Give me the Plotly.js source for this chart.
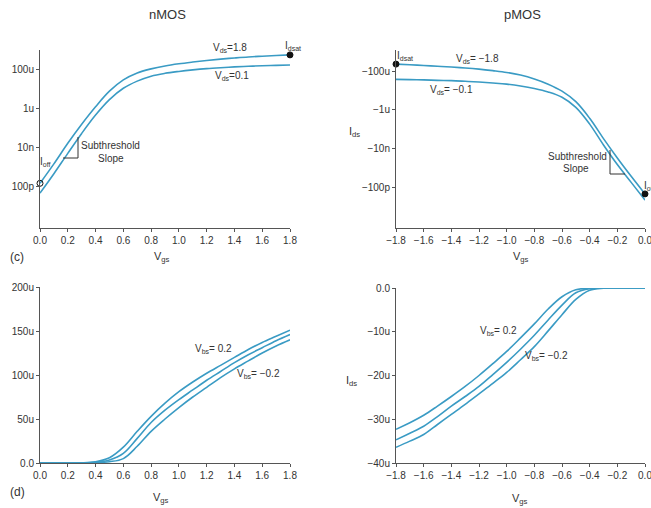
<!DOCTYPE html>
<html><head><meta charset="utf-8">
<script src="https://cdn.plot.ly/plotly-3.0.1.min.js"></script>
<style>html,body{margin:0;padding:0;background:#fff}#chart{width:651px;height:508px}</style>
</head><body><div id="chart"></div>
<script>
// ---- nMOS Ids vs Vgs (log), amps ----
const vgsN = [0,0.1,0.2,0.3,0.4,0.5,0.6,0.7,0.8,0.9,1.0,1.1,1.2,1.3,1.4,1.5,1.6,1.7,1.8];
const idsN_vds18 = [1.38e-10,1.38e-9,1.58e-8,1.51e-7,1.2e-6,7.6e-6,2.9e-5,6.6e-5,1.07e-4,1.51e-4,1.95e-4,2.4e-4,2.9e-4,3.4e-4,3.9e-4,4.4e-4,4.8e-4,5.2e-4,5.6e-4];
const idsN_vds01 = [4.3e-11,4.3e-10,4.8e-9,5.1e-8,4.5e-7,2.8e-6,1.07e-5,2.5e-5,4.5e-5,6.3e-5,7.9e-5,9.5e-5,1.1e-4,1.23e-4,1.35e-4,1.45e-4,1.55e-4,1.62e-4,1.7e-4];
// ---- pMOS Ids vs Vgs (log of magnitude), amps ----
const vgsP = [-1.8,-1.7,-1.6,-1.5,-1.4,-1.3,-1.2,-1.1,-1.0,-0.9,-0.8,-0.7,-0.6,-0.5,-0.4,-0.3,-0.2,-0.1,0];
const idsP_vdsm18 = [-2.29e-4,-2.14e-4,-1.95e-4,-1.78e-4,-1.62e-4,-1.45e-4,-1.26e-4,-1.05e-4,-8.5e-5,-6.2e-5,-3.9e-5,-2.1e-5,-9.1e-6,-2.6e-6,-3.6e-7,-3.2e-8,-3.2e-9,-3.6e-10,-4.4e-11];
const idsP_vdsm01 = [-3.7e-5,-3.6e-5,-3.5e-5,-3.3e-5,-3.2e-5,-2.95e-5,-2.7e-5,-2.4e-5,-2.1e-5,-1.7e-5,-1.26e-5,-8.3e-6,-4.4e-6,-1.32e-6,-1.8e-7,-1.5e-8,-1.45e-9,-1.74e-10,-2.1e-11];
// ---- nMOS linear, body effect, µA ----
const idsN_vbs_p02 = [0,0,0,0.2,1.5,6,18,36,53,68,81,92,102,111,120,129,137,144,151];
const idsN_vbs_0   = [0,0,0,0.1,0.8,3.5,11,28,46,60,72,83,94,104,114,123,131,139,146];
const idsN_vbs_m02 = [0,0,0,0,0.4,1.5,5,19,36,50,63,75,86,97,107,116,125,133,140];
// ---- pMOS linear, body effect, µA ----
const idsP_vbs_p02 = [-32.3,-30.8,-29.1,-27,-24.8,-22.5,-20,-17.3,-14.5,-11.4,-8.2,-4.8,-2.0,-0.4,-0.05,0,0,0,0];
const idsP_vbs_0   = [-34.7,-33.2,-31.6,-29.4,-27,-24.8,-22.5,-19.8,-17,-14,-10.8,-7.3,-3.9,-1.1,-0.15,-0.01,0,0,0];
const idsP_vbs_m02 = [-36.4,-35,-33.5,-31.2,-28.9,-26.6,-24.2,-21.8,-19.3,-16.4,-13.4,-9.8,-6.1,-2.6,-0.5,-0.05,0,0,0];
// ---- tick labels ----
const tickN = [0,0.2,0.4,0.6,0.8,1.0,1.2,1.4,1.6,1.8];
const tickNtext = ["0.0","0.2","0.4","0.6","0.8","1.0","1.2","1.4","1.6","1.8"];
const tickP = [-1.8,-1.6,-1.4,-1.2,-1.0,-0.8,-0.6,-0.4,-0.2,0];
const tickPtext = ["\u22121.8","\u22121.6","\u22121.4","\u22121.2","\u22121.0","\u22120.8","\u22120.6","\u22120.4","\u22120.2","0.0"];
const logTicks = [1e-10,1e-8,1e-6,1e-4];
const logTickN = ["100p","10n","1u","100u"];
const logTickP = ["\u2212100p","\u221210n","\u22121u","\u2212100u"];
const linTickN = [0,50,100,150,200];
const linTickNtext = ["0.0","50u","100u","150u","200u"];
const linTickP = [-40,-30,-20,-10,0];
const linTickPtext = ["\u221240u","\u221230u","\u221220u","\u221210u","0.0"];

const LC = '#3a9bc4';
const W = 651, H = 508;
const px = x => x / W, py = y => 1 - y / H;
const FONT = 'Liberation Sans, Arial, sans-serif';
const abs = a => a.map(v => Math.abs(v));

function line(x, y, xa, ya) {
  return {x: x, y: y, xaxis: xa, yaxis: ya, mode: 'lines', type: 'scatter',
          line: {color: LC, width: 1.6, shape: 'spline', smoothing: 1}, hoverinfo: 'skip'};
}
function dot(x, y, xa, ya, sym) {
  return {x: [x], y: [y], xaxis: xa, yaxis: ya, mode: 'markers', type: 'scatter', cliponaxis: false,
          marker: {color: '#111', size: 6, symbol: sym || 'circle', line: {color: '#111', width: 1}}, hoverinfo: 'skip'};
}

const traces = [
  line(vgsN, idsN_vds18, 'x', 'y'),
  line(vgsN, idsN_vds01, 'x', 'y'),
  dot(vgsN[vgsN.length-1], idsN_vds18[idsN_vds18.length-1], 'x', 'y'),
  dot(vgsN[0], idsN_vds18[0], 'x', 'y', 'circle-open'),
  line(vgsP, abs(idsP_vdsm18), 'x2', 'y2'),
  line(vgsP, abs(idsP_vdsm01), 'x2', 'y2'),
  dot(vgsP[0], Math.abs(idsP_vdsm18[0]), 'x2', 'y2'),
  dot(vgsP[vgsP.length-1], Math.abs(idsP_vdsm18[idsP_vdsm18.length-1]), 'x2', 'y2'),
  line(vgsN, idsN_vbs_p02, 'x3', 'y3'),
  line(vgsN, idsN_vbs_0, 'x3', 'y3'),
  line(vgsN, idsN_vbs_m02, 'x3', 'y3'),
  line(vgsP, idsP_vbs_p02, 'x4', 'y4'),
  line(vgsP, idsP_vbs_0, 'x4', 'y4'),
  line(vgsP, idsP_vbs_m02, 'x4', 'y4')
];

const axBase = {showgrid: false, zeroline: false, showline: true, linecolor: '#555', linewidth: 1,
  ticks: 'outside', ticklen: 3, tickcolor: '#555', tickwidth: 1, ticklabeloverflow: 'allow',
  tickfont: {family: FONT, size: 10, color: '#333'}, fixedrange: true};
function ax(o) { return Object.assign({}, axBase, o); }

const dTL = {x: [px(40), px(290)], y: [py(228), py(50)]};
const dTR = {x: [px(396), px(645)], y: [py(228), py(50)]};
const dBL = {x: [px(40), px(290)], y: [py(463), py(287)]};
const dBR = {x: [px(396), px(645)], y: [py(463), py(288)]};

function ann(text, x, y, size, xanchor) {
  return {text: text, x: px(x), y: py(y), xref: 'paper', yref: 'paper', showarrow: false,
          xanchor: xanchor || 'center', yanchor: 'middle', font: {family: FONT, size: size || 10, color: '#333'}};
}

const annotations = [
  ann('nMOS', 167, 15, 13),
  ann('pMOS', 522, 15, 13),
  ann('(c)', 17, 257, 12),
  ann('(d)', 17, 492, 12),
  ann('V<sub>gs</sub>', 162, 257, 11),
  ann('V<sub>gs</sub>', 521, 257, 11),
  ann('V<sub>gs</sub>', 161, 498, 11),
  ann('V<sub>gs</sub>', 520, 499, 11),
  ann('I<sub>ds</sub>', 354, 132, 11),
  ann('I<sub>ds</sub>', 351, 381, 11),
  ann('V<sub>ds</sub>=1.8', 230, 48, 10),
  ann('V<sub>ds</sub>=0.1', 232, 76, 10),
  ann('I<sub>dsat</sub>', 293, 46, 10),
  ann('I<sub>off</sub>', 45, 162, 10),
  ann('Subthreshold', 110, 146, 10),
  ann('Slope', 111, 158, 10),
  ann('I<sub>dsat</sub>', 405, 56, 10),
  ann('V<sub>ds</sub>= \u22121.8', 477, 59, 10),
  ann('V<sub>ds</sub>= \u22120.1', 451, 90, 10),
  ann('Subthreshold', 577, 156, 10),
  ann('Slope', 576, 168, 10),
  ann('I<sub>off</sub>', 642, 186, 10, 'left'),
  ann('V<sub>bs</sub>= 0.2', 213, 349, 10),
  ann('V<sub>bs</sub>= \u22120.2', 258, 374, 10),
  ann('V<sub>bs</sub>= 0.2', 498, 331, 10),
  ann('V<sub>bs</sub>= \u22120.2', 546, 356, 10)
];

function path(pts) {
  return 'M' + pts.map(p => px(p[0]) + ',' + py(p[1])).join(' L');
}
const shapes = [
  {type: 'path', xref: 'paper', yref: 'paper', path: path([[63,158],[78,158],[78,137]]), line: {color: '#333', width: 1}},
  {type: 'path', xref: 'paper', yref: 'paper', path: path([[610,150],[610,174],[625,174]]), line: {color: '#333', width: 1}}
];

const layout = {
  width: W, height: H, margin: {l: 0, r: 0, t: 0, b: 0},
  paper_bgcolor: '#fff', plot_bgcolor: '#fff', showlegend: false,
  xaxis:  ax({domain: dTL.x, anchor: 'y',  range: [0, 1.8], tickvals: tickN, ticktext: tickNtext}),
  yaxis:  ax({domain: dTL.y, anchor: 'x',  type: 'log', range: [-12.16, -3.0], tickvals: logTicks, ticktext: logTickN}),
  xaxis2: ax({domain: dTR.x, anchor: 'y2', range: [-1.8, 0], tickvals: tickP, ticktext: tickPtext}),
  yaxis2: ax({domain: dTR.y, anchor: 'x2', type: 'log', range: [-12.12, -2.91], tickvals: logTicks, ticktext: logTickP}),
  xaxis3: ax({domain: dBL.x, anchor: 'y3', range: [0, 1.8], tickvals: tickN, ticktext: tickNtext}),
  yaxis3: ax({domain: dBL.y, anchor: 'x3', range: [0, 200], tickvals: linTickN, ticktext: linTickNtext}),
  xaxis4: ax({domain: dBR.x, anchor: 'y4', range: [-1.8, 0], tickvals: tickP, ticktext: tickPtext}),
  yaxis4: ax({domain: dBR.y, anchor: 'x4', range: [-40, 0], tickvals: linTickP, ticktext: linTickPtext}),
  annotations: annotations,
  shapes: shapes
};

Plotly.newPlot('chart', traces, layout, {staticPlot: true, displayModeBar: false});
</script>
</body></html>
